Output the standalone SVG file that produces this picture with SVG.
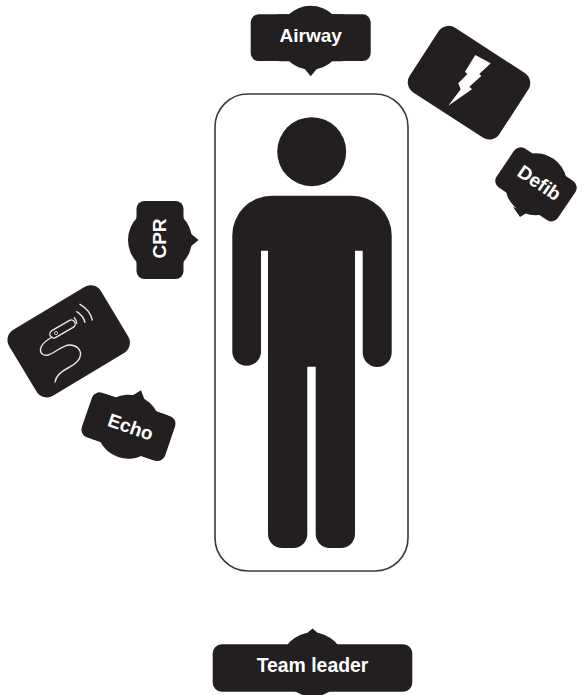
<svg xmlns="http://www.w3.org/2000/svg" width="582" height="695" viewBox="0 0 582 695">
<style>
.k{fill:#231f20}
.t{fill:#fff;font-family:"Liberation Sans",Arial,sans-serif;font-weight:700;font-size:19px;text-anchor:middle}
.w{fill:none;stroke:#e8e8e8;stroke-width:1.4;stroke-linecap:round}
</style>
<defs>
<g id="badge"><rect class="k" x="-39" y="-23.5" width="78" height="47" rx="8"/><circle class="k" cx="0" cy="0" r="32"/><path class="k" d="M-7 30L0 38.5L7 30Z"/></g>
</defs>
<rect width="582" height="695" fill="#fff"/>
<g id="bed"><rect x="215" y="94" width="193" height="477" rx="33" fill="#fff" stroke="#3a3a3a" stroke-width="1.6"/></g>
<g id="patient">
<circle class="k" cx="311.7" cy="151.7" r="34.5"/>
<path class="k" d="M272 195.7H352A39.7 39.7 0 0 1 391.7 235.4V352.5A14.4 14.4 0 0 1 362.7 352.5V250.7H355V534A14 14 0 0 1 341 548H329.7A14 14 0 0 1 315.7 534V366.7H307.3V534A14 14 0 0 1 293.3 548H282A14 14 0 0 1 268 534V250.7H261V352.5A14.4 14.4 0 0 1 232.3 352.5V235.4A39.7 39.7 0 0 1 272 195.7Z"/>
</g>
<g id="airway"><rect class="k" x="250.7" y="14.3" width="120" height="46.8" rx="8"/><use href="#badge" transform="translate(310.7 37.7)"/><text class="t" x="310.7" y="41.8">Airway</text></g>
<g id="team-leader"><rect class="k" x="212.7" y="644.3" width="199.6" height="47.4" rx="9"/><circle class="k" cx="312.5" cy="664.5" r="32"/><path class="k" d="M305.5 634.5L312.5 628.5L319.5 634.5Z"/><text class="t" x="312.5" y="672" style="font-size:19.4px">Team leader</text></g>
<g id="cpr"><use href="#badge" transform="translate(160 240) rotate(-90)"/><text class="t" transform="translate(166 238.5) rotate(-90)">CPR</text></g>
<g id="defib-badge"><rect class="k" x="-37" y="-23.5" width="74" height="47" rx="8" transform="translate(536 184.3) rotate(34)"/><circle class="k" cx="536" cy="184.3" r="31"/><path class="k" d="M513 207L520 217L528 212Z"/><text class="t" transform="translate(538 185) rotate(34)" dy="4">Defib</text></g>
<g id="echo-badge"><rect class="k" x="-44" y="-23.5" width="88" height="47" rx="8" transform="translate(128.5 426.7) rotate(19)"/><use href="#badge" transform="translate(128.5 426.7) rotate(199)"/><text class="t" transform="translate(130.5 427.5) rotate(19)" dy="6">Echo</text></g>
<g id="defibrillator">
<rect class="k" x="-53.5" y="-38.5" width="107" height="77" rx="12" transform="translate(469 82.7) rotate(33)"/>
<path fill="#fff" d="M475.3 55L490.7 63.3L479.3 74L481.3 76L469.3 86.7L472 89.3L448.3 105.7L460.7 89.3L458.3 83.3L467.3 74L465 71.7Z"/>
</g>
<g id="ultrasound">
<rect class="k" x="-53.5" y="-38.5" width="107" height="77" rx="12" transform="translate(68.7 341.3) rotate(-31)"/>
<rect class="w" x="-14" y="-4" width="28" height="8" rx="4" transform="translate(62.5 329) rotate(-30)"/>
<circle cx="56" cy="333" r="1.6" fill="none" stroke="#e8e8e8" stroke-width=".8"/>
<path class="w" d="M52 337C47 340 41 344 40.5 349C40 354 44 356 48 355C55 353 62 345 70 345C76 345 81 349 80.5 355C80 361 74 365 68 368C62 371 56 376 55 382"/>
<path class="w" d="M74.3 317.7Q76.5 320 76.7 323.3M76.7 311.7Q83 315.5 85 322.3M80 304.3Q90 310 92.3 320"/>
</g>
<g id="connectors"/>
</svg>
